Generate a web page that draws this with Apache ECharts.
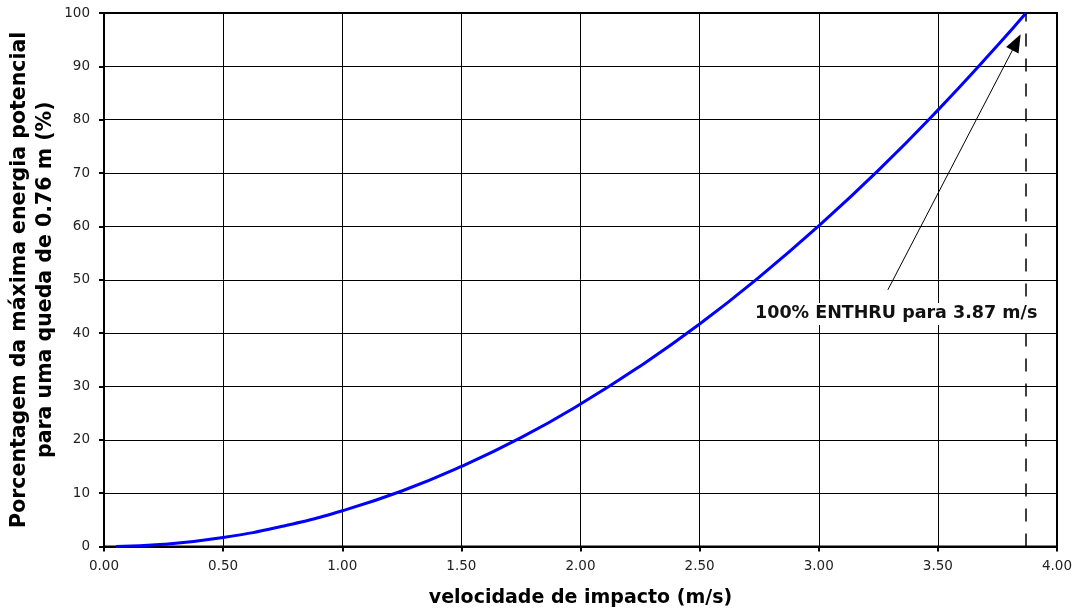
<!DOCTYPE html>
<html><head><meta charset="utf-8">
<script src="https://cdn.jsdelivr.net/npm/echarts@6/dist/echarts.min.js"></script>
<style>html,body{margin:0;padding:0;background:#fff}#c{width:1078px;height:610px}</style>
</head><body><div id="c"></div>
<script>
const velocity = [0.05,0.25,0.50,0.75,1.00,1.25,1.50,1.75,2.00,2.25,2.50,2.75,3.00,3.25,3.50,3.75,3.87];
const percent  = [0.0,0.4,1.7,3.8,6.7,10.4,15.0,20.4,26.7,33.8,41.7,50.5,60.1,70.5,81.8,93.9,100];
const xTicks = ['0.00','0.50','1.00','1.50','2.00','2.50','3.00','3.50','4.00'];
const yTicks = [0,10,20,30,40,50,60,70,80,90,100];
const enthruV = 3.87;
const annotationText = '100% ENTHRU para 3.87 m/s';
const arrowFrom = [3.29, 48.1];
const arrowTo = [3.83, 94.5];
const labelAt = [3.325, 43.6];
const xTitle = 'velocidade de impacto (m/s)';
const yTitle = 'Porcentagem da máxima energia potencial\npara uma queda de 0.76 m (%)';

const font = 'DejaVu Sans';
const chart = echarts.init(document.getElementById('c'), null, {renderer:'canvas'});
chart.setOption({
  animation:false,
  grid:{left:104,right:21,top:13,bottom:63.5,show:true,borderColor:'#000',borderWidth:2,
        containLabel:false,outerBoundsMode:'none'},
  xAxis:{type:'value',min:0,max:4,interval:0.5,
    name:xTitle,nameLocation:'middle',nameGap:42,nameMoveOverlap:false,
    nameTextStyle:{fontFamily:font,fontWeight:'bold',fontSize:19,color:'#000'},
    axisLine:{show:true,onZero:false,lineStyle:{color:'#000',width:2}},
    axisTick:{show:true,length:5,lineStyle:{color:'#000',width:2}},
    axisLabel:{margin:13,fontFamily:font,fontSize:13.5,color:'#222',
      formatter:v=>xTicks[Math.round(v/0.5)]},
    splitLine:{show:true,lineStyle:{color:'#000',width:1}}},
  yAxis:{type:'value',min:0,max:100,interval:10,
    name:yTitle,nameLocation:'middle',nameGap:45,nameRotate:90,nameMoveOverlap:false,
    nameTextStyle:{fontFamily:font,fontWeight:'bold',fontSize:20.5,color:'#000',lineHeight:26},
    axisLine:{show:true,lineStyle:{color:'#000',width:2}},
    axisTick:{show:true,length:5,lineStyle:{color:'#000',width:2}},
    axisLabel:{margin:14,fontFamily:font,fontSize:13.5,color:'#222',
      formatter:v=>String(yTicks[Math.round(v/10)])},
    splitLine:{show:true,lineStyle:{color:'#000',width:1}}},
  series:[{type:'line',smooth:true,symbol:'none',
    data:velocity.map((v,i)=>[v,percent[i]]),
    lineStyle:{color:'#0000ff',width:3},
    markLine:{silent:true,animation:false,
      data:[
        [{coord:[enthruV,0],symbol:'none',lineStyle:{type:[13,12],color:'#000',width:1.5}},
         {coord:[enthruV,100],symbol:'none'}],
        [{coord:arrowFrom,symbol:'none',lineStyle:{type:'solid',color:'#000',width:1}},
         {coord:arrowTo,symbol:'triangle',symbolSize:[14,18]}]
      ],
      label:{show:false}},
    markPoint:{silent:true,symbol:'circle',symbolSize:1,itemStyle:{color:'rgba(0,0,0,0)'},
      data:[{coord:labelAt,label:{show:true,formatter:annotationText,
        position:'inside',fontFamily:font,fontWeight:'bold',fontSize:17.5,color:'#111',
        backgroundColor:'#fff',padding:[2,5]}}]}
  }]
});
</script></body></html>
